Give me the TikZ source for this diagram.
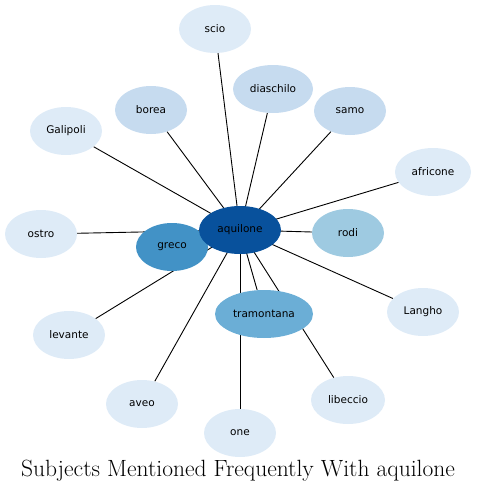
\documentclass[tikz,border=0pt]{standalone}
\usepackage{fontspec}
\setsansfont{DejaVu Sans}
\usetikzlibrary{shapes.geometric,backgrounds}
\definecolor{hub}{HTML}{08519C}
\definecolor{lvA}{HTML}{4292C6}
\definecolor{lvB}{HTML}{6BAED6}
\definecolor{lvC}{HTML}{9ECAE1}
\definecolor{lvD}{HTML}{C6DBEF}
\definecolor{lvE}{HTML}{DEEBF7}
\tikzset{
  every node/.style={font=\sffamily\fontsize{10.5}{12}\selectfont,text=black},
  topic/.style={ellipse,fill=lvE,minimum width=72pt,minimum height=48pt,inner sep=1pt},
  topicD/.style={topic,fill=lvD},
  topicC/.style={topic,fill=lvC},
  topicB/.style={topic,fill=lvB},
  topicA/.style={topic,fill=lvA},
  hubnode/.style={topic,fill=hub,minimum width=82pt},
  link/.style={draw=black,line width=0.9pt},
}

\begin{document}
\begin{tikzpicture}[x=1pt,y=-1pt]
\useasboundingbox (0,0) rectangle (477,493);

\node[topic] (scio) at (215,29) {scio};
\node[topicD,minimum width=80pt] (diaschilo) at (273,89) {diaschilo};
\node[topicD] (samo) at (350,111) {samo};
\node[topicD] (borea) at (151,110) {borea};
\node[topic] (galipoli) at (66,131) {Galipoli};
\node[topic,minimum width=76pt] (africone) at (433,172) {africone};
\node[topicC] (rodi) at (348,233) {rodi};
\node[topicA] (greco) at (172,247) {greco};
\node[topic] (ostro) at (41,234) {ostro};
\node[topicB,minimum width=98pt] (tramontana) at (264,314) {tramontana};
\node[topic] (langho) at (423,312) {Langho};
\node[topic] (levante) at (69,335) {levante};
\node[topic] (aveo) at (142,404) {aveo};
\node[topic] (one) at (240,433) {one};
\node[topic,minimum width=74pt] (libeccio) at (348,400) {libeccio};
\node[hubnode] (aquilone) at (240,230) {aquilone};

\begin{scope}[on background layer]
\foreach \t in {scio,diaschilo,samo,borea,galipoli,africone,rodi,greco,ostro,tramontana,langho,levante,aveo,one,libeccio}
  \draw[link] (aquilone.center) -- (\t);
\end{scope}

\node[font=\rmfamily\fontsize{23.5}{26}\selectfont] (title) at (238,471) {Subjects Mentioned Frequently With aquilone};

\end{tikzpicture}
\end{document}
